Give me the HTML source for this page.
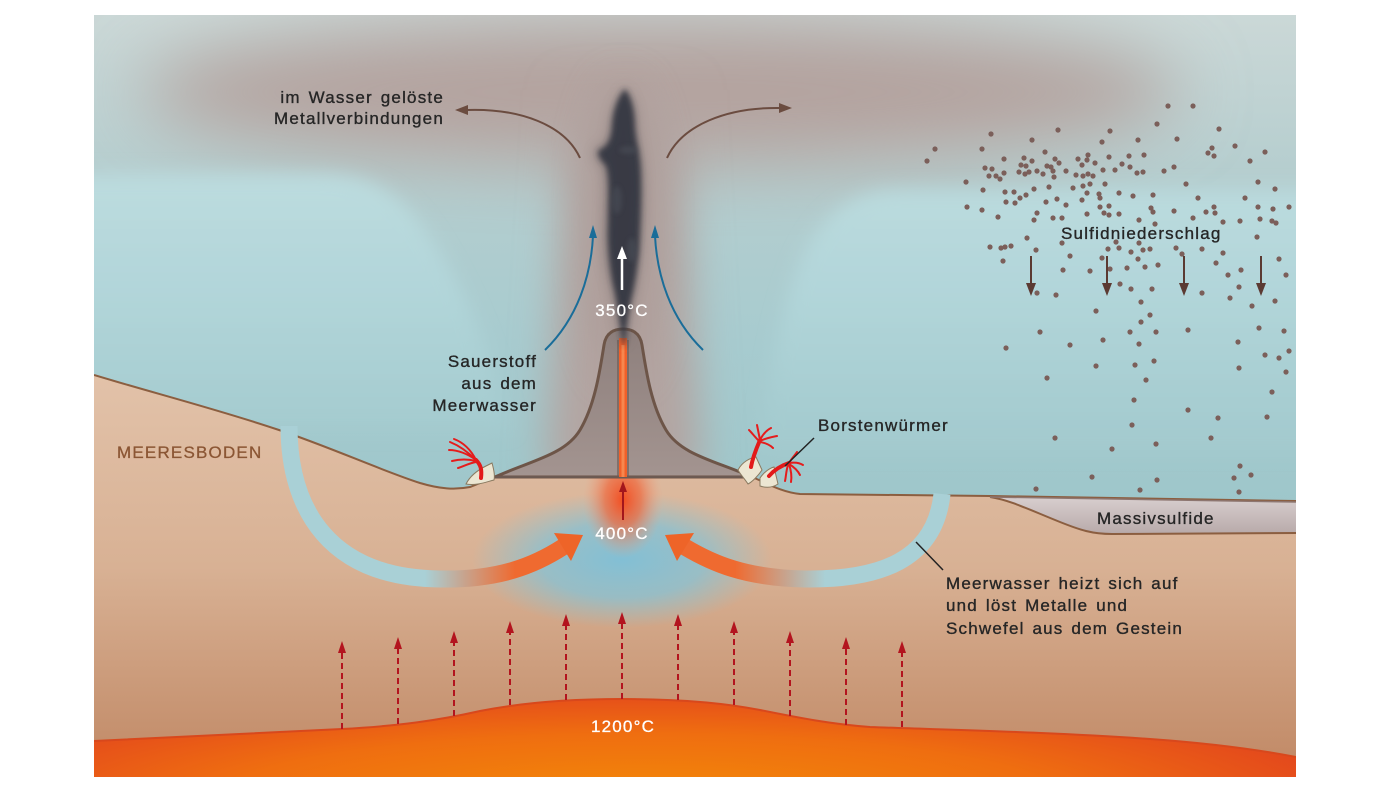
<!DOCTYPE html>
<html><head><meta charset="utf-8"><style>
html,body{margin:0;padding:0;background:#fff;}
svg{display:block;}
text{font-family:"Liberation Sans",sans-serif;}
</style></head><body>
<svg width="1400" height="788" viewBox="0 0 1400 788" xmlns="http://www.w3.org/2000/svg">
<defs>
  <linearGradient id="water" gradientUnits="userSpaceOnUse" x1="0" y1="15" x2="0" y2="520">
    <stop offset="0" stop-color="#cbd8d7"/>
    <stop offset="0.3" stop-color="#b6cecf"/>
    <stop offset="0.65" stop-color="#a7cbcf"/>
    <stop offset="1" stop-color="#9dc6ca"/>
  </linearGradient>
  <linearGradient id="blob" gradientUnits="userSpaceOnUse" x1="0" y1="170" x2="0" y2="430">
    <stop offset="0" stop-color="#bddcdf"/>
    <stop offset="0.5" stop-color="#b1d5d9"/>
    <stop offset="1" stop-color="#a4cbcf"/>
  </linearGradient>
  <linearGradient id="ground" gradientUnits="userSpaceOnUse" x1="0" y1="375" x2="0" y2="760">
    <stop offset="0" stop-color="#e2c2a9"/>
    <stop offset="0.5" stop-color="#d8b194"/>
    <stop offset="1" stop-color="#c28b68"/>
  </linearGradient>
  <radialGradient id="magma" gradientUnits="userSpaceOnUse" cx="0" cy="0" r="1" gradientTransform="translate(640,800) scale(700,110)">
    <stop offset="0" stop-color="#f38a08"/>
    <stop offset="0.6" stop-color="#ef6e10"/>
    <stop offset="1" stop-color="#e44a1c"/>
  </radialGradient>
  <radialGradient id="blueglow" gradientUnits="userSpaceOnUse" cx="0" cy="0" r="1" gradientTransform="translate(622,560) scale(150,68)">
    <stop offset="0" stop-color="#7ec0d8" stop-opacity="0.95"/>
    <stop offset="0.55" stop-color="#84c2d6" stop-opacity="0.75"/>
    <stop offset="1" stop-color="#8cc4d4" stop-opacity="0"/>
  </radialGradient>
  <radialGradient id="orangeglow" gradientUnits="userSpaceOnUse" cx="0" cy="0" r="1" gradientTransform="translate(623,500) scale(40,58)">
    <stop offset="0" stop-color="#f24e22" stop-opacity="1"/>
    <stop offset="0.45" stop-color="#f0663a" stop-opacity="0.7"/>
    <stop offset="1" stop-color="#eea080" stop-opacity="0"/>
  </radialGradient>
  <linearGradient id="tubeL" gradientUnits="userSpaceOnUse" x1="425" y1="0" x2="515" y2="0">
    <stop offset="0" stop-color="#a9d0d6"/>
    <stop offset="1" stop-color="#ef6a30"/>
  </linearGradient>
  <linearGradient id="tubeR" gradientUnits="userSpaceOnUse" x1="825" y1="0" x2="735" y2="0">
    <stop offset="0" stop-color="#a9d0d6"/>
    <stop offset="1" stop-color="#ef6a30"/>
  </linearGradient>
  <linearGradient id="chim" gradientUnits="userSpaceOnUse" x1="0" y1="330" x2="0" y2="477">
    <stop offset="0" stop-color="#8e807d"/>
    <stop offset="1" stop-color="#a39490"/>
  </linearGradient>
  <linearGradient id="sulf" gradientUnits="userSpaceOnUse" x1="0" y1="497" x2="0" y2="535">
    <stop offset="0" stop-color="#d8cfcf"/>
    <stop offset="1" stop-color="#b7a9a8"/>
  </linearGradient>
  <filter id="b35" x="-50%" y="-50%" width="200%" height="200%"><feGaussianBlur stdDeviation="35"/></filter>
  <filter id="b20" x="-50%" y="-50%" width="200%" height="200%"><feGaussianBlur stdDeviation="20"/></filter>
  <filter id="b9" x="-20%" y="-20%" width="140%" height="140%"><feGaussianBlur stdDeviation="9"/></filter>
  <filter id="b6" x="-50%" y="-50%" width="200%" height="200%"><feGaussianBlur stdDeviation="6"/></filter>
  <filter id="b3" x="-50%" y="-50%" width="200%" height="200%"><feGaussianBlur stdDeviation="3"/></filter>
  <filter id="b2" x="-50%" y="-50%" width="200%" height="200%"><feGaussianBlur stdDeviation="2"/></filter>
  <clipPath id="frame"><rect x="94" y="15" width="1202" height="762"/></clipPath>
  <clipPath id="groundclip"><path d="M94,375 C150,392 220,410 279,430 C330,447 380,470 420,483 C440,489 455,490 470,487 L495,477 L752,477 C765,482 780,492 800,494 L990,496 L1296,501 L1296,777 L94,777 Z"/></clipPath>
</defs>

<g clip-path="url(#frame)">
  <!-- water -->
  <rect x="94" y="15" width="1202" height="762" fill="url(#water)"/>
  <!-- brown haze band -->
  <ellipse cx="660" cy="92" rx="520" ry="72" fill="#b4a39f" filter="url(#b35)"/>
  <!-- light teal blobs -->
  <path d="M60,174 L320,174 C380,174 410,202 440,252 C470,302 490,350 510,430 L60,430 Z" fill="url(#blob)" filter="url(#b9)"/>
  <path d="M1340,190 L900,190 C850,190 820,217 800,262 C780,312 770,370 760,450 L1340,450 Z" fill="url(#blob)" filter="url(#b9)"/>
  <!-- plume column haze -->
  <path d="M568,90 L682,90 L702,480 L545,480 Z" fill="#b3a4a1" filter="url(#b20)"/>
  <ellipse cx="623" cy="230" rx="36" ry="150" fill="#a89692" opacity="0.5" filter="url(#b20)"/>

  <!-- ground -->
  <path d="M94,375 C150,392 220,410 279,430 C330,447 380,470 420,483 C440,489 455,490 470,487 L495,477 L752,477 C765,482 780,492 800,494 L990,496 L1296,501 L1296,777 L94,777 Z" fill="url(#ground)"/>
  <g clip-path="url(#groundclip)">
    <ellipse cx="622" cy="560" rx="150" ry="68" fill="url(#blueglow)"/>
    <ellipse cx="623" cy="500" rx="40" ry="58" fill="url(#orangeglow)"/>
  </g>
  <!-- seafloor line -->
  <path d="M94,375 C150,392 220,410 279,430 C330,447 380,470 420,483 C440,489 455,490 470,487 L495,477 M752,477 C765,482 780,492 800,494 L990,496 L1296,501" fill="none" stroke="#8b5e40" stroke-width="2"/>

  <!-- massivsulfide -->
  <path d="M990,497 C1010,500 1030,510 1060,522 C1080,530 1092,534 1112,534 L1296,533 L1296,502 Z" fill="url(#sulf)"/>
  <path d="M990,497 C1010,500 1030,510 1060,522 C1080,530 1092,534 1112,534 L1296,533" fill="none" stroke="#8b5e40" stroke-width="2"/>
  <path d="M990,497 L1296,502" fill="none" stroke="#8d7670" stroke-width="1.5"/>

  <!-- magma -->
  <path d="M94,741 C200,736 300,731 342,729 C400,726 440,720 480,711 C520,703 570,699 622,699 C675,699 720,702 760,710 C800,718 830,724 870,727 C950,730 1050,732 1150,739 C1220,744 1270,752 1296,757 L1296,777 L94,777 Z" fill="url(#magma)"/>
  <path d="M94,741 C200,736 300,731 342,729 C400,726 440,720 480,711 C520,703 570,699 622,699 C675,699 720,702 760,710 C800,718 830,724 870,727 C950,730 1050,732 1150,739 C1220,744 1270,752 1296,757" fill="none" stroke="#d8481c" stroke-width="2"/>

  <!-- heat dashed arrows -->
  <g stroke="#b3141e" stroke-width="2" stroke-dasharray="6,4" fill="none">
    <line x1="342" y1="729" x2="342" y2="650"/>
    <line x1="398" y1="724" x2="398" y2="646"/>
    <line x1="454" y1="716" x2="454" y2="640"/>
    <line x1="510" y1="705" x2="510" y2="630"/>
    <line x1="566" y1="700" x2="566" y2="623"/>
    <line x1="622" y1="699" x2="622" y2="621"/>
    <line x1="678" y1="700" x2="678" y2="623"/>
    <line x1="734" y1="705" x2="734" y2="630"/>
    <line x1="790" y1="716" x2="790" y2="640"/>
    <line x1="846" y1="725" x2="846" y2="646"/>
    <line x1="902" y1="727" x2="902" y2="650"/>
  </g>
  <g fill="#b3141e">
    <polygon points="342,641 338,653 346,653"/>
    <polygon points="398,637 394,649 402,649"/>
    <polygon points="454,631 450,643 458,643"/>
    <polygon points="510,621 506,633 514,633"/>
    <polygon points="566,614 562,626 570,626"/>
    <polygon points="622,612 618,624 626,624"/>
    <polygon points="678,614 674,626 682,626"/>
    <polygon points="734,621 730,633 738,633"/>
    <polygon points="790,631 786,643 794,643"/>
    <polygon points="846,637 842,649 850,649"/>
    <polygon points="902,641 898,653 906,653"/>
  </g>

  <!-- circulation tubes -->
  <path d="M289,426 C289,510 330,578 440,579 C500,580 535,565 563,547" fill="none" stroke="url(#tubeL)" stroke-width="17"/>
  <polygon points="554,533 583,535 571,561" fill="#ee6428"/>
  <path d="M942,494 C935,560 880,580 805,579 C745,578 712,563 685,547" fill="none" stroke="url(#tubeR)" stroke-width="17"/>
  <polygon points="694,533 665,535 677,561" fill="#ee6428"/>

  <!-- red arrow in ground -->
  <line x1="623" y1="520" x2="623" y2="490" stroke="#a3161c" stroke-width="2"/>
  <polygon points="623,481 619,492 627,492" fill="#a3161c"/>

  <!-- chimney -->
  <path d="M495,477 C530,461 565,455 580,430 C595,405 600,370 604,345 C606,332 615,329 623,329 C631,329 640,332 642,345 C646,370 651,405 666,430 C681,455 716,461 752,477 Z" fill="url(#chim)" stroke="#6d5548" stroke-width="3" stroke-linejoin="round"/>
  <line x1="495" y1="477" x2="752" y2="477" stroke="#6c5a52" stroke-width="2"/>
  <rect x="619" y="338" width="8" height="139" fill="#f0602a"/>
  <rect x="621.5" y="345" width="3" height="132" fill="#f6874e"/>
  <line x1="618" y1="340" x2="618" y2="477" stroke="#6d5a52" stroke-width="1.2"/>
  <line x1="628" y1="340" x2="628" y2="477" stroke="#6d5a52" stroke-width="1.2"/>

  <!-- plume -->
  <path d="M623,345 C616,320 614,300 610,285 C604,265 603,240 604,225 C604,200 606,180 602,166 C594,160 592,150 598,147 C606,144 609,138 610,125 C612,110 618,96 625,88 C632,95 637,110 637,128 C638,140 641,150 642,160 C645,180 644,210 642,235 C641,260 637,285 633,300 C629,315 627,330 625,345 Z" fill="#5d5658" opacity="0.4" filter="url(#b6)"/>
  <path d="M623,345 C619,320 617,300 613,285 C609,265 607,240 608,225 C608,200 610,180 606,166 C599,159 595,151 601,149 C607,146 611,140 612,125 C613,110 618,96 625,89 C631,96 635,110 635,128 C636,140 639,150 640,160 C642,180 641,210 640,235 C639,260 635,285 631,300 C628,315 626,330 625,345 Z" fill="#303540" opacity="0.92" filter="url(#b3)"/>
  <g fill="#4a4e56" opacity="0.6" filter="url(#b2)">
    <ellipse cx="628" cy="150" rx="9" ry="4"/>
    <ellipse cx="617" cy="200" rx="5" ry="14"/>
    <ellipse cx="632" cy="250" rx="5" ry="12"/>
  </g>

  <!-- white arrow -->
  <line x1="622" y1="290" x2="622" y2="256" stroke="#ffffff" stroke-width="2.5"/>
  <polygon points="622,246 617,259 627,259" fill="#ffffff"/>

  <!-- blue arrows -->
  <path d="M545,350 C578,318 591,275 593,236" fill="none" stroke="#1a6d99" stroke-width="2"/>
  <polygon points="593,225 589,238 597,238" fill="#1a6d99"/>
  <path d="M703,350 C670,318 657,275 655,236" fill="none" stroke="#1a6d99" stroke-width="2"/>
  <polygon points="655,225 651,238 659,238" fill="#1a6d99"/>

  <!-- brown arrows -->
  <path d="M580,158 C565,125 520,108 466,110" fill="none" stroke="#6b4c40" stroke-width="2"/>
  <polygon points="455,110 468,105 468,115" fill="#6b4c40"/>
  <path d="M667,158 C682,125 727,107 781,108" fill="none" stroke="#6b4c40" stroke-width="2"/>
  <polygon points="792,108 779,103 779,113" fill="#6b4c40"/>

  <!-- worms left -->
  <path d="M466,484 C470,476 478,470 486,466 L492,463 C494,470 495,476 494,480 C486,482 476,486 466,484 Z" fill="#ece6d2" stroke="#8a7a60" stroke-width="1"/>
  <path d="M481,478 C482,470 481,465 476,460" fill="none" stroke="#e21a1a" stroke-width="4" stroke-linecap="round"/>
  <g fill="none" stroke="#e51c1c" stroke-width="2" stroke-linecap="round">
    <path d="M476,460 C468,452 460,446 450,442"/>
    <path d="M476,460 C468,454 458,450 449,450"/>
    <path d="M476,461 C468,459 460,459 452,461"/>
    <path d="M476,462 C470,463 464,466 458,468"/>
    <path d="M476,460 C470,448 462,442 454,439"/>
  </g>
  <!-- worms right -->
  <path d="M738,470 C742,462 750,458 756,457 L762,470 C758,476 752,482 748,484 C744,478 740,474 738,470 Z" fill="#ece6d2" stroke="#8a7a60" stroke-width="1"/>
  <path d="M760,478 C764,472 770,468 774,467 L778,484 C772,488 766,488 760,486 Z" fill="#ece6d2" stroke="#8a7a60" stroke-width="1"/>
  <path d="M751,467 C753,456 757,447 760,440" fill="none" stroke="#e21a1a" stroke-width="4" stroke-linecap="round"/>
  <path d="M769,476 C775,469 783,465 789,463" fill="none" stroke="#e21a1a" stroke-width="4" stroke-linecap="round"/>
  <g fill="none" stroke="#e51c1c" stroke-width="2" stroke-linecap="round">
    <path d="M760,440 C759,435 758,430 757,425"/>
    <path d="M760,440 C763,434 767,430 771,428"/>
    <path d="M760,441 C766,438 772,437 777,436"/>
    <path d="M760,442 C766,443 770,445 773,448"/>
    <path d="M759,441 C755,437 752,433 749,430"/>
    <path d="M789,463 C792,458 795,455 797,452"/>
    <path d="M789,463 C795,462 800,463 803,465"/>
    <path d="M789,464 C794,467 798,471 800,475"/>
    <path d="M789,464 C791,470 792,476 791,482"/>
    <path d="M788,465 C786,471 786,477 785,481"/>
  </g>

  <!-- pointer lines -->
  <line x1="814" y1="438" x2="785" y2="466" stroke="#222" stroke-width="1.5"/>
  <line x1="916" y1="542" x2="943" y2="570" stroke="#222" stroke-width="1.5"/>

  <!-- sulfide particles -->
  <g fill="#7b5f5a">
    <circle cx="1168" cy="106" r="2.6"/><circle cx="1193" cy="106" r="2.6"/><circle cx="1157" cy="124" r="2.6"/><circle cx="1058" cy="130" r="2.6"/><circle cx="1110" cy="131" r="2.6"/><circle cx="991" cy="134" r="2.6"/><circle cx="1219" cy="129" r="2.6"/><circle cx="1138" cy="140" r="2.6"/><circle cx="1177" cy="139" r="2.6"/><circle cx="1032" cy="140" r="2.6"/><circle cx="1102" cy="142" r="2.6"/><circle cx="935" cy="149" r="2.6"/><circle cx="982" cy="149" r="2.6"/><circle cx="1235" cy="146" r="2.6"/><circle cx="1208" cy="153" r="2.6"/><circle cx="1212" cy="148" r="2.6"/><circle cx="1214" cy="156" r="2.6"/><circle cx="1265" cy="152" r="2.6"/><circle cx="1045" cy="152" r="2.6"/><circle cx="1088" cy="155" r="2.6"/><circle cx="927" cy="161" r="2.6"/><circle cx="1004" cy="159" r="2.6"/><circle cx="1024" cy="158" r="2.6"/><circle cx="1032" cy="161" r="2.6"/><circle cx="1055" cy="159" r="2.6"/><circle cx="1078" cy="159" r="2.6"/><circle cx="1109" cy="157" r="2.6"/><circle cx="1129" cy="156" r="2.6"/><circle cx="1144" cy="155" r="2.6"/><circle cx="1250" cy="161" r="2.6"/><circle cx="1087" cy="160" r="2.6"/>
    <circle cx="985" cy="168" r="2.6"/><circle cx="992" cy="169" r="2.6"/><circle cx="1021" cy="165" r="2.6"/><circle cx="1026" cy="166" r="2.6"/><circle cx="1047" cy="166" r="2.6"/><circle cx="1051" cy="167" r="2.6"/><circle cx="1059" cy="163" r="2.6"/><circle cx="1095" cy="163" r="2.6"/><circle cx="1122" cy="164" r="2.6"/><circle cx="989" cy="176" r="2.6"/><circle cx="996" cy="176" r="2.6"/><circle cx="1000" cy="179" r="2.6"/><circle cx="1004" cy="173" r="2.6"/><circle cx="1019" cy="172" r="2.6"/><circle cx="1025" cy="174" r="2.6"/><circle cx="1029" cy="172" r="2.6"/><circle cx="1037" cy="171" r="2.6"/><circle cx="1043" cy="174" r="2.6"/><circle cx="1053" cy="171" r="2.6"/><circle cx="1054" cy="177" r="2.6"/><circle cx="1066" cy="171" r="2.6"/><circle cx="1076" cy="175" r="2.6"/><circle cx="1082" cy="165" r="2.6"/><circle cx="1083" cy="176" r="2.6"/><circle cx="1088" cy="174" r="2.6"/><circle cx="1093" cy="176" r="2.6"/><circle cx="1103" cy="170" r="2.6"/><circle cx="1115" cy="170" r="2.6"/><circle cx="1130" cy="167" r="2.6"/><circle cx="1137" cy="173" r="2.6"/><circle cx="1143" cy="172" r="2.6"/><circle cx="1164" cy="171" r="2.6"/><circle cx="1174" cy="167" r="2.6"/>
    <circle cx="1083" cy="186" r="2.6"/><circle cx="1090" cy="184" r="2.6"/><circle cx="1105" cy="184" r="2.6"/><circle cx="1186" cy="184" r="2.6"/><circle cx="1258" cy="182" r="2.6"/><circle cx="1275" cy="189" r="2.6"/><circle cx="966" cy="182" r="2.6"/><circle cx="983" cy="190" r="2.6"/><circle cx="1005" cy="192" r="2.6"/><circle cx="1014" cy="192" r="2.6"/><circle cx="1034" cy="189" r="2.6"/><circle cx="1049" cy="187" r="2.6"/><circle cx="1073" cy="188" r="2.6"/><circle cx="1087" cy="193" r="2.6"/><circle cx="1099" cy="194" r="2.6"/><circle cx="1119" cy="193" r="2.6"/><circle cx="1133" cy="196" r="2.6"/><circle cx="1153" cy="195" r="2.6"/><circle cx="1198" cy="198" r="2.6"/><circle cx="1245" cy="198" r="2.6"/>
    <circle cx="967" cy="207" r="2.6"/><circle cx="982" cy="210" r="2.6"/><circle cx="1006" cy="202" r="2.6"/><circle cx="1015" cy="203" r="2.6"/><circle cx="1020" cy="198" r="2.6"/><circle cx="1026" cy="195" r="2.6"/><circle cx="1046" cy="202" r="2.6"/><circle cx="1057" cy="199" r="2.6"/><circle cx="1066" cy="205" r="2.6"/><circle cx="1082" cy="200" r="2.6"/><circle cx="1100" cy="198" r="2.6"/><circle cx="1100" cy="207" r="2.6"/><circle cx="1109" cy="206" r="2.6"/><circle cx="1151" cy="208" r="2.6"/><circle cx="1153" cy="212" r="2.6"/><circle cx="1174" cy="211" r="2.6"/><circle cx="1206" cy="212" r="2.6"/><circle cx="1214" cy="207" r="2.6"/><circle cx="1215" cy="213" r="2.6"/><circle cx="1258" cy="207" r="2.6"/><circle cx="1273" cy="209" r="2.6"/><circle cx="1289" cy="207" r="2.6"/>
    <circle cx="998" cy="217" r="2.6"/><circle cx="1034" cy="220" r="2.6"/><circle cx="1037" cy="213" r="2.6"/><circle cx="1053" cy="218" r="2.6"/><circle cx="1062" cy="218" r="2.6"/><circle cx="1087" cy="214" r="2.6"/><circle cx="1104" cy="213" r="2.6"/><circle cx="1109" cy="215" r="2.6"/><circle cx="1119" cy="214" r="2.6"/><circle cx="1139" cy="220" r="2.6"/><circle cx="1155" cy="224" r="2.6"/><circle cx="1193" cy="218" r="2.6"/><circle cx="1223" cy="222" r="2.6"/><circle cx="1240" cy="221" r="2.6"/><circle cx="1260" cy="219" r="2.6"/><circle cx="1272" cy="221" r="2.6"/><circle cx="1276" cy="223" r="2.6"/><circle cx="1257" cy="237" r="2.6"/>
    <circle cx="990" cy="247" r="2.6"/><circle cx="1001" cy="248" r="2.6"/><circle cx="1005" cy="247" r="2.6"/><circle cx="1011" cy="246" r="2.6"/><circle cx="1027" cy="238" r="2.6"/><circle cx="1036" cy="250" r="2.6"/><circle cx="1062" cy="243" r="2.6"/><circle cx="1070" cy="256" r="2.6"/><circle cx="1102" cy="258" r="2.6"/><circle cx="1108" cy="249" r="2.6"/><circle cx="1116" cy="242" r="2.6"/><circle cx="1119" cy="248" r="2.6"/><circle cx="1131" cy="252" r="2.6"/><circle cx="1139" cy="243" r="2.6"/><circle cx="1143" cy="250" r="2.6"/><circle cx="1150" cy="249" r="2.6"/><circle cx="1176" cy="248" r="2.6"/><circle cx="1182" cy="254" r="2.6"/><circle cx="1202" cy="249" r="2.6"/><circle cx="1223" cy="253" r="2.6"/><circle cx="1279" cy="259" r="2.6"/>
    <circle cx="1003" cy="261" r="2.6"/><circle cx="1063" cy="270" r="2.6"/><circle cx="1090" cy="271" r="2.6"/><circle cx="1110" cy="269" r="2.6"/><circle cx="1120" cy="284" r="2.6"/><circle cx="1127" cy="268" r="2.6"/><circle cx="1131" cy="289" r="2.6"/><circle cx="1138" cy="259" r="2.6"/><circle cx="1145" cy="267" r="2.6"/><circle cx="1152" cy="289" r="2.6"/><circle cx="1158" cy="265" r="2.6"/><circle cx="1202" cy="293" r="2.6"/><circle cx="1216" cy="263" r="2.6"/><circle cx="1228" cy="275" r="2.6"/><circle cx="1241" cy="270" r="2.6"/><circle cx="1239" cy="287" r="2.6"/><circle cx="1286" cy="275" r="2.6"/><circle cx="1037" cy="293" r="2.6"/><circle cx="1056" cy="295" r="2.6"/>
    <circle cx="1230" cy="298" r="2.6"/><circle cx="1252" cy="306" r="2.6"/><circle cx="1275" cy="301" r="2.6"/><circle cx="1141" cy="302" r="2.6"/><circle cx="1096" cy="311" r="2.6"/><circle cx="1150" cy="315" r="2.6"/><circle cx="1141" cy="322" r="2.6"/><circle cx="1040" cy="332" r="2.6"/><circle cx="1130" cy="332" r="2.6"/><circle cx="1156" cy="332" r="2.6"/><circle cx="1188" cy="330" r="2.6"/><circle cx="1259" cy="328" r="2.6"/><circle cx="1284" cy="331" r="2.6"/><circle cx="1103" cy="340" r="2.6"/><circle cx="1139" cy="344" r="2.6"/><circle cx="1238" cy="342" r="2.6"/><circle cx="1006" cy="348" r="2.6"/><circle cx="1070" cy="345" r="2.6"/><circle cx="1265" cy="355" r="2.6"/><circle cx="1279" cy="358" r="2.6"/><circle cx="1289" cy="351" r="2.6"/><circle cx="1096" cy="366" r="2.6"/><circle cx="1135" cy="365" r="2.6"/><circle cx="1154" cy="361" r="2.6"/><circle cx="1239" cy="368" r="2.6"/><circle cx="1286" cy="372" r="2.6"/><circle cx="1047" cy="378" r="2.6"/><circle cx="1146" cy="380" r="2.6"/><circle cx="1272" cy="392" r="2.6"/><circle cx="1134" cy="400" r="2.6"/><circle cx="1188" cy="410" r="2.6"/><circle cx="1218" cy="418" r="2.6"/><circle cx="1267" cy="417" r="2.6"/><circle cx="1132" cy="425" r="2.6"/><circle cx="1055" cy="438" r="2.6"/><circle cx="1211" cy="438" r="2.6"/><circle cx="1112" cy="449" r="2.6"/><circle cx="1156" cy="444" r="2.6"/><circle cx="1240" cy="466" r="2.6"/><circle cx="1251" cy="475" r="2.6"/><circle cx="1234" cy="478" r="2.6"/><circle cx="1092" cy="477" r="2.6"/><circle cx="1157" cy="480" r="2.6"/><circle cx="1036" cy="489" r="2.6"/><circle cx="1140" cy="490" r="2.6"/><circle cx="1239" cy="492" r="2.6"/>
  </g>

  <!-- sulfide down arrows -->
  <g stroke="#5b3a32" stroke-width="2">
    <line x1="1031" y1="256" x2="1031" y2="286"/>
    <line x1="1107" y1="256" x2="1107" y2="286"/>
    <line x1="1184" y1="256" x2="1184" y2="286"/>
    <line x1="1261" y1="256" x2="1261" y2="286"/>
  </g>
  <g fill="#5b3a32">
    <polygon points="1031,296 1026,283 1036,283"/>
    <polygon points="1107,296 1102,283 1112,283"/>
    <polygon points="1184,296 1179,283 1189,283"/>
    <polygon points="1261,296 1256,283 1266,283"/>
  </g>

  <!-- texts -->
  <g font-size="17" fill="#262626" stroke="#262626" stroke-width="0.35" style="letter-spacing:1.2px;word-spacing:2px">
    <text x="444" y="103" text-anchor="end">im Wasser gelöste</text>
    <text x="444" y="124" text-anchor="end">Metallverbindungen</text>
    <text x="537" y="367" text-anchor="end">Sauerstoff</text>
    <text x="537" y="389" text-anchor="end">aus dem</text>
    <text x="537" y="411" text-anchor="end">Meerwasser</text>
    <text x="818" y="431">Borstenwürmer</text>
    <text x="1061" y="239">Sulfidniederschlag</text>
    <text x="1097" y="524">Massivsulfide</text>
    <text x="946" y="589">Meerwasser heizt sich auf</text>
    <text x="946" y="611">und löst Metalle und</text>
    <text x="946" y="634">Schwefel aus dem Gestein</text>
  </g>
  <text x="117" y="458" font-size="17" fill="#8b5634" stroke="#8b5634" stroke-width="0.3" style="letter-spacing:1.2px">MEERESBODEN</text>
  <g font-size="17" fill="#ffffff" stroke="#ffffff" stroke-width="0.3" text-anchor="middle" style="letter-spacing:1.2px">
    <text x="622" y="316">350°C</text>
    <text x="622" y="539">400°C</text>
    <text x="623" y="732">1200°C</text>
  </g>
</g>
</svg>
</body></html>
